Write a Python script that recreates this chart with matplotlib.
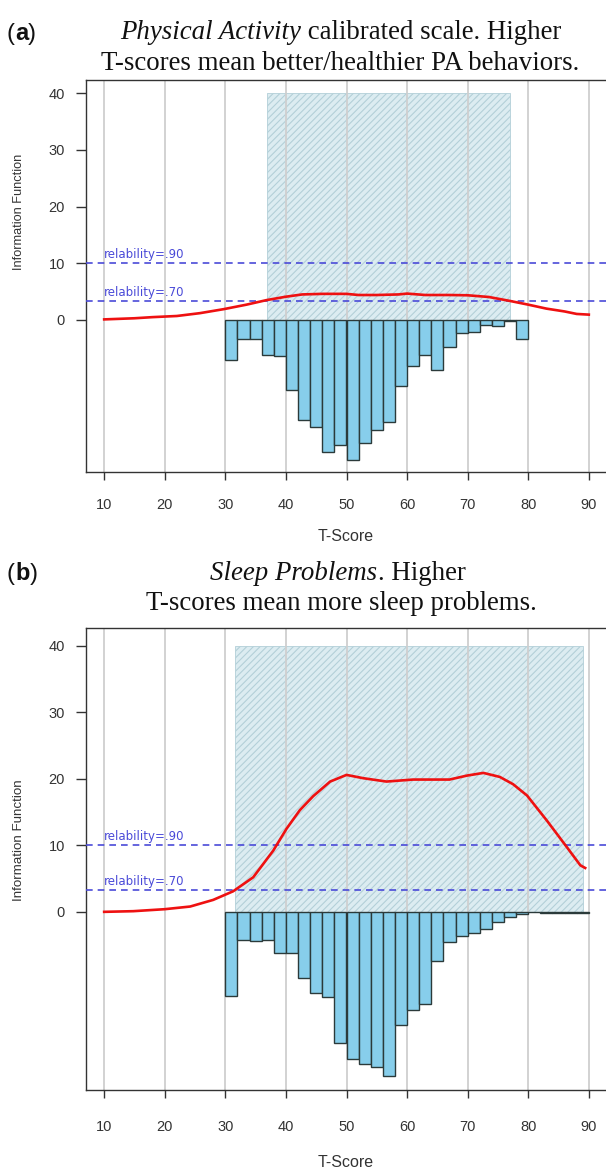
import matplotlib
matplotlib.use("Agg")
import matplotlib.pyplot as plt
from matplotlib.patches import Rectangle

# ---------------- data ----------------
bin_width = 2
# Panel (a) Physical Activity
a_bin_left = list(range(30, 80, 2))
a_bar_depth = [7.05, 3.3, 3.3, 6.1, 6.4, 12.4, 17.6, 18.9, 23.2, 22.0, 24.7, 21.6,
               19.4, 18.0, 11.7, 8.2, 6.2, 8.9, 4.7, 2.3, 2.2, 0.9, 1.1, 0.2, 3.4]
a_curve_t = [10, 15, 18, 22, 25.8, 29.7, 33.5, 36.8, 40, 42.7, 46, 50, 52, 55, 58.6,
             60, 63, 67, 70, 73.5, 77, 80, 83, 86, 88, 90]
a_curve_info = [0.1, 0.3, 0.5, 0.7, 1.2, 1.9, 2.7, 3.5, 4.1, 4.5, 4.6, 4.6, 4.4, 4.4,
                4.5, 4.65, 4.4, 4.4, 4.35, 4.05, 3.35, 2.7, 2.0, 1.5, 1.06, 0.94]
a_range = (36.9, 77.0)

# Panel (b) Sleep Problems
b_bin_left = list(range(30, 90, 2))
b_bar_depth = [12.6, 4.2, 4.4, 4.2, 6.2, 6.2, 10.0, 12.2, 12.8, 19.7, 22.1, 22.9,
               23.3, 24.7, 17.0, 14.8, 13.9, 7.4, 4.6, 3.7, 3.2, 2.6, 1.5, 0.75,
               0.35, 0.0, 0.2, 0.1, 0.2, 0.2]
b_curve_t = [10, 14.8, 20, 24.2, 28, 31.3, 34.6, 37.9, 40.1, 42.3, 44.5, 47.3, 50,
             52.8, 56.6, 61, 67, 69.9, 72.6, 75.3, 77.5, 79.8, 83.1, 86.4, 88.6, 89.4]
b_curve_info = [0.0, 0.1, 0.4, 0.8, 1.8, 3.1, 5.2, 9.2, 12.5, 15.3, 17.4, 19.6, 20.6,
                20.1, 19.6, 19.9, 19.9, 20.5, 20.9, 20.3, 19.2, 17.5, 13.7, 9.7, 7.0, 6.6]
b_range = (31.6, 89.1)

x_ticks = [10, 20, 30, 40, 50, 60, 70, 80, 90]
y_ticks = [0, 10, 20, 30, 40]
rel_levels = [10.0, 3.333]
rel_labels = ["relability=.90", "relability=.70"]

# ---------------- figure ----------------
W, H = 606, 1169
fig = plt.figure(figsize=(W / 100, H / 100), dpi=100)
plt.rcParams["hatch.linewidth"] = 0.8
sans = ["Liberation Sans", "DejaVu Sans"]
serif = ["Liberation Serif", "DejaVu Serif"]
TXT = "#333333"


def px_axes(left, top, right, bottom):
    return [left / W, 1 - bottom / H, (right - left) / W, (bottom - top) / H]


def ftext(x, y, s, **kw):
    return fig.text(x / W, 1 - y / H, s, **kw)


def draw_panel(ax, bin_left, depth, ct, ci, rng, ylim, xpad, lab_off):
    ax.set_xlim(7, 93)
    ax.set_ylim(*ylim)
    ax.add_patch(Rectangle((rng[0], 0), rng[1] - rng[0], 40, facecolor="#dcecf1",
                           edgecolor="#b3cfd8", hatch="/////", linewidth=0.6,
                           zorder=1))
    for t in x_ticks:
        ax.axvline(t, color="#cfcfcf", lw=1.3, zorder=1.5)
    ax.bar(bin_left, [-d for d in depth], width=bin_width, align="edge",
           color="#87ceeb", edgecolor="#2b3a3a", linewidth=1.0, zorder=2)
    for lvl, lab in zip(rel_levels, rel_labels):
        ax.axhline(lvl, color="#4a4ad8", lw=1.2, ls=(0, (4, 3)), zorder=3)
        ax.text(10, lvl + lab_off, lab, color="#4a4ad8", fontsize=8.5,
                family=["DejaVu Sans"], va="bottom", ha="left", zorder=3)
    ax.plot(ct, ci, color="#ee1111", lw=1.9, zorder=4)
    ax.set_xticks(x_ticks)
    ax.set_yticks(y_ticks)
    ax.tick_params(axis="both", direction="out", width=1,
                   color=TXT, labelcolor=TXT, labelsize=10.5)
    ax.tick_params(axis="x", length=5.8, pad=xpad)
    ax.tick_params(axis="y", length=7.2, pad=8)
    for lab in ax.get_xticklabels() + ax.get_yticklabels():
        lab.set_family(sans)
    for s in ax.spines.values():
        s.set_color(TXT)
        s.set_linewidth(1.0)


ax1 = fig.add_axes(px_axes(86, 80, 607, 472))
draw_panel(ax1, a_bin_left, a_bar_depth, a_curve_t, a_curve_info, a_range,
           (-26.8, 42.3), 12.8, 0.35)
ax2 = fig.add_axes(px_axes(86, 628, 607, 1090))
draw_panel(ax2, b_bin_left, b_bar_depth, b_curve_t, b_curve_info, b_range,
           (-26.8, 42.7), 16, 0.3)

# axis labels
ftext(346, 541, "T-Score", family=sans, fontsize=11.5, color=TXT, ha="center",
      va="baseline")
ftext(346, 1167, "T-Score", family=sans, fontsize=11.5, color=TXT, ha="center",
      va="baseline")
ftext(19, 212, "Information Function", family=sans, fontsize=9.2, color=TXT,
      rotation=90, ha="center", va="center")
ftext(19, 840, "Information Function", family=sans, fontsize=9.6, color=TXT,
      rotation=90, ha="center", va="center")


def text_run(x0, yb, parts, centre=False):
    renderer = fig.canvas.get_renderer()
    objs = []
    for txt, kw in parts:
        o = fig.text(0, 1 - yb / H, txt, va="baseline", ha="left", **kw)
        objs.append(o)
    widths = [o.get_window_extent(renderer).width for o in objs]
    x = x0 - sum(widths) / 2 if centre else x0
    for o, w in zip(objs, widths):
        o.set_x(x / W)
        x += w


# panel letters: regular parentheses, bold letter
let_n = dict(family=sans, fontsize=17, color="#111111")
let_b = dict(family=sans, fontsize=17, color="#111111", fontweight="bold")
text_run(7, 40, [("(", let_n), ("a", let_b), (")", let_n)])
text_run(7, 580, [("(", let_n), ("b", let_b), (")", let_n)])

# titles
tsize = 19.4
t_n = dict(family=serif, fontsize=tsize, color="#111111")
t_i = dict(family=serif, fontsize=tsize, color="#111111", style="italic")
text_run(341, 39, [("Physical Activity", t_i), (" calibrated scale. Higher", t_n)], True)
text_run(340, 70, [("T-scores mean better/healthier PA behaviors.", t_n)], True)
text_run(338, 580, [("Sleep Problems", t_i), (". Higher", t_n)], True)
text_run(341, 610, [("T-scores mean more sleep problems.", t_n)], True)

fig.savefig("out.png", dpi=100)
